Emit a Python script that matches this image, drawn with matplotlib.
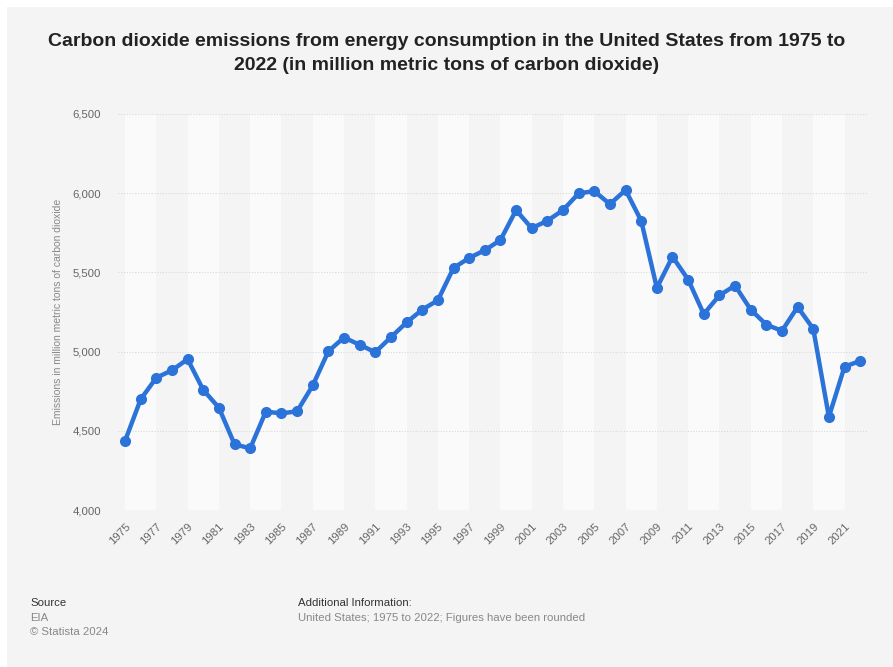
import matplotlib.pyplot as plt
from matplotlib.patches import Rectangle
from matplotlib.ticker import FuncFormatter

# ----------------------------
# Data
# ----------------------------
years = list(range(1975, 2023))
emissions = [4436, 4699, 4835, 4882, 4952, 4758, 4646, 4415, 4389, 4621,
             4610, 4623, 4786, 5002, 5089, 5043, 4996, 5091, 5184, 5265,
             5324, 5528, 5591, 5640, 5704, 5893, 5779, 5826, 5893, 5999,
             6013, 5931, 6020, 5826, 5402, 5599, 5455, 5237, 5355, 5417,
             5265, 5170, 5131, 5282, 5144, 4588, 4905, 4941]
x_ticks = list(range(1975, 2022, 2))
y_ticks = [4000, 4500, 5000, 5500, 6000, 6500]

title = ("Carbon dioxide emissions from energy consumption in the United States from 1975 to\n"
         "2022 (in million metric tons of carbon dioxide)")
y_label = "Emissions in million metric tons of carbon dioxide"

BG = "#f4f4f4"
BAND = "#fafafa"
LINE = "#2b73d9"

plt.rcParams['font.family'] = ['Liberation Sans', 'DejaVu Sans']

fig = plt.figure(figsize=(8.93, 6.67), dpi=100)
fig.patch.set_facecolor("white")
# grey card behind everything, white strip at top/left like the screenshot
card = Rectangle((7 / 893, 0), 1, 1 - 7 / 667, transform=fig.transFigure,
                 facecolor=BG, edgecolor="none", zorder=-10)
fig.patches.append(card)

ax = fig.add_axes([118 / 893, 1 - 510 / 667, 750 / 893, 396 / 667])
ax.set_facecolor(BG)
ax.set_zorder(1)

# alternating column bands, two years wide
for start in x_ticks[::2]:
    ax.axvspan(start, start + 2, color=BAND, lw=0, zorder=0)

ax.plot(years, emissions, color=LINE, lw=3.2, marker="o", ms=7,
        solid_joinstyle="round", zorder=3, clip_on=False)

ax.set_xlim(1974.55, 2022.5)
ax.set_ylim(4000, 6500)
ax.set_xticks(x_ticks)
ax.set_yticks(y_ticks)
ax.yaxis.set_major_formatter(FuncFormatter(lambda v, p: f"{int(v):,}"))
ax.grid(axis="y", color="#d9d9d9", lw=0.8, ls=(0, (1, 1.5)), zorder=1)
ax.grid(axis="x", visible=False)
for s in ax.spines.values():
    s.set_visible(False)
ax.tick_params(axis="both", length=0, colors="#666666", labelsize=8.2)
ax.tick_params(axis="y", pad=12)
ax.tick_params(axis="x", pad=8)
plt.setp(ax.get_xticklabels(), rotation=45, ha="right", rotation_mode="anchor")

ax.set_ylabel(y_label, color="#888888", fontsize=7.5)
ax.yaxis.set_label_coords(-0.073, 0.5)

fig.text(0.5, 1 - 33 / 667, title, ha="center", va="top", fontsize=14,
         fontweight="bold", color="#222222", linespacing=1.5)

# footer
fig.text(30 / 893, 1 - 603 / 667, "Source", fontsize=8.2, color="#333333", va="center")
fig.text(30 / 893, 1 - 618 / 667, "EIA", fontsize=8.2, color="#888888", va="center")
fig.text(30 / 893, 1 - 632 / 667, "\u00a9 Statista 2024", fontsize=8.2, color="#888888", va="center")
fig.text(298 / 893, 1 - 603 / 667, "Additional Information:", fontsize=8.2, color="#333333", va="center")
fig.text(298 / 893, 1 - 618 / 667, "United States; 1975 to 2022; Figures have been rounded",
         fontsize=8.2, color="#888888", va="center")

fig.savefig("out.png", dpi=100, facecolor=fig.get_facecolor())
